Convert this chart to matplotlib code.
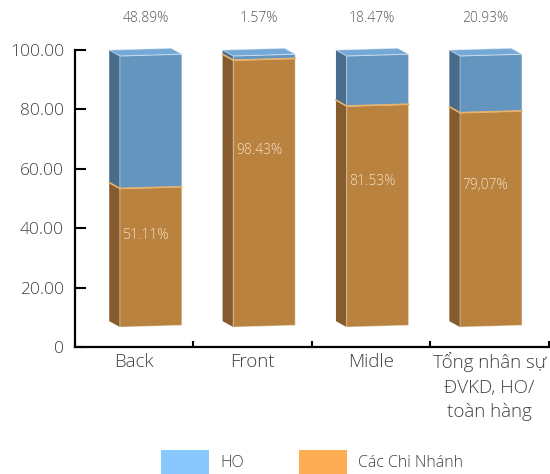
import matplotlib
matplotlib.use('Agg')
import matplotlib.pyplot as plt
from matplotlib.patches import Polygon, Rectangle

plt.rcParams['font.family'] = ['Open Sans', 'DejaVu Sans']
plt.rcParams['font.weight'] = 'light'

categories = ['Back', 'Front', 'Midle', 'Tổng nhân sự\nĐVKD, HO/\ntoàn hàng']
ho = [48.89, 1.57, 18.47, 20.93]
chi_nhanh = [51.11, 98.43, 81.53, 79.07]
ho_labels = ['48.89%', '1.57%', '18.47%', '20.93%']
cn_labels = ['51.11%', '98.43%', '81.53%', '79,07%']
y_ticks = [0, 20, 40, 60, 80, 100]
y_tick_labels = ['0', '20.00', '40.00', '60.00', '80.00', '100.00']
series_names = ['HO', 'Các Chi Nhánh']

# face colours: front, side, top
blue = ('#6395BE', '#486D8C', '#74A8D6')
orange = ('#B9823E', '#865B2D', '#E3A95E')
legend_colors = ['#88C8FE', '#FFAD55']

# fake 3d geometry
bar_w = 0.523
depth_dx = -0.09
depth_dy = 2.0
base = 6.7
scale = 0.913
tilt = 0.6


def fy(v):
    return base + v * scale


fig = plt.figure(figsize=(5.5, 4.74), dpi=100)
ax = fig.add_axes([0.1364, 0.268, 0.998 - 0.1364, 0.8945 - 0.268])
ax.set_xlim(-0.5, 3.5)
ax.set_ylim(0, 100)


def draw_segment(xl, v0, v1, cols, z):
    xr = xl + bar_w
    side = [(xl + depth_dx, fy(v0) + depth_dy), (xl, fy(v0)),
            (xl, fy(v1)), (xl + depth_dx, fy(v1) + depth_dy)]
    front = [(xl, fy(v0)), (xr, fy(v0) + tilt), (xr, fy(v1) + tilt), (xl, fy(v1))]
    ax.add_patch(Polygon(side, closed=True, facecolor=cols[1], edgecolor='none',
                         zorder=z, clip_on=False))
    ax.add_patch(Polygon(front, closed=True, facecolor=cols[0],
                         edgecolor=(1, 1, 1, 0.35), lw=0.8, zorder=z + 0.1, clip_on=False))


for i in range(len(categories)):
    shift = 0.14 - 0.043 * i
    xl = i + shift - bar_w / 2
    xr = xl + bar_w
    split = chi_nhanh[i]
    total = chi_nhanh[i] + ho[i]

    draw_segment(xl, 0, split, orange, 2)
    draw_segment(xl, split, total, blue, 2)

    # light seam where the two stacks meet
    ax.plot([xl + depth_dx, xl, xr], [fy(split) + depth_dy, fy(split), fy(split) + tilt],
            color='#E8B46C', lw=1.2, zorder=3, clip_on=False)

    top = [(xl, fy(total)), (xr, fy(total) + tilt),
           (xr + depth_dx, fy(total) + tilt + depth_dy), (xl + depth_dx, fy(total) + depth_dy)]
    ax.add_patch(Polygon(top, closed=True, facecolor=blue[2],
                         edgecolor=(1, 1, 1, 0.4), lw=0.8, zorder=4, clip_on=False))

    xc = xl + (bar_w + depth_dx) / 2
    ax.text(xc, 110.7, ho_labels[i], ha='center', va='center', fontsize=10,
            color='#595959', clip_on=False)
    ax.text(xc, fy(0.66 * split), cn_labels[i], ha='center', va='center',
            fontsize=10, color='#F3DFC6', zorder=5)

ax.spines['top'].set_visible(False)
ax.spines['right'].set_visible(False)
for s in ('left', 'bottom'):
    ax.spines[s].set_linewidth(1.6)
    ax.spines[s].set_zorder(6)

ax.set_yticks(y_ticks)
ax.set_yticklabels(y_tick_labels)
ax.tick_params(axis='y', direction='in', length=8, width=1.5, pad=8,
               labelsize=12.5, labelcolor='#404040')

ax.set_xticks(range(len(categories)))
ax.set_xticklabels(categories, linespacing=1.45)
ax.set_xticks([i - 0.5 for i in range(len(categories) + 1)], minor=True)
ax.tick_params(axis='x', which='major', length=0, pad=4, labelsize=13.5,
               labelcolor='#404040')
ax.tick_params(axis='x', which='minor', direction='in', length=4.5, width=1.5)

# legend swatches along the bottom edge
for k, (name, col) in enumerate(zip(series_names, legend_colors)):
    x0 = (161 + 138 * k) / 550
    fig.patches.append(Rectangle((x0, -0.004), 48 / 550, 26 / 474, transform=fig.transFigure,
                                 facecolor=col, edgecolor='none'))
    fig.text(x0 + 59 / 550, 1 - 463 / 474, name, ha='left', va='center',
             fontsize=11.5, color='#404040')

fig.savefig('out.png', dpi=100)
